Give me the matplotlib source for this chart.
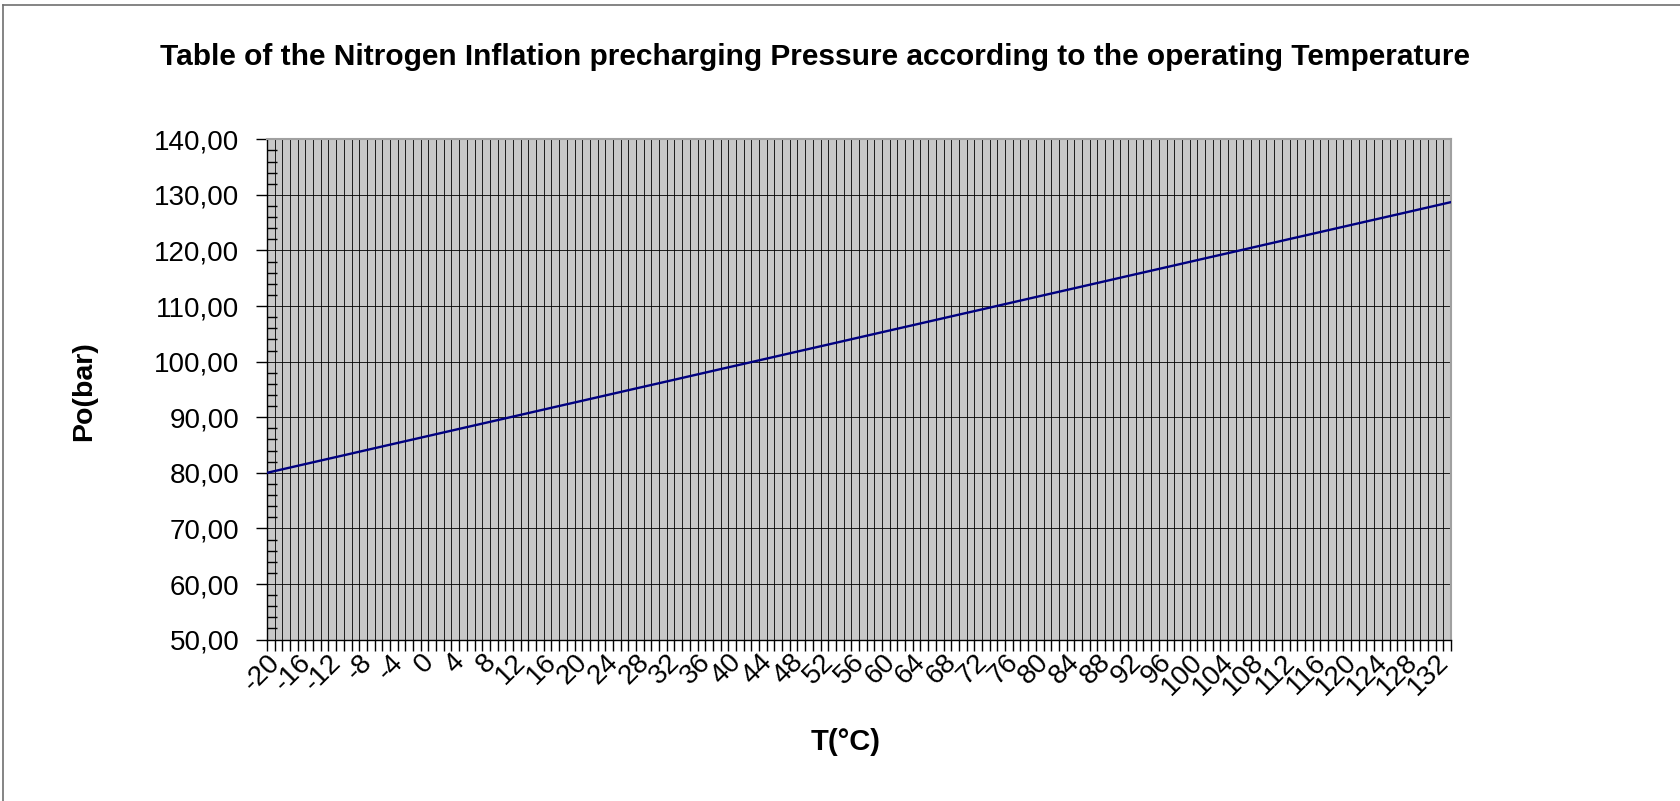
import matplotlib
matplotlib.use('Agg')
import matplotlib.pyplot as plt
import matplotlib.ticker as ticker

plt.rcParams['font.family'] = ['Liberation Sans', 'DejaVu Sans']

# operating temperature (deg C), one category per degree
temps = list(range(-20, 135))

# nitrogen precharge pressure (bar)
pressure = [
    80.00, 80.32, 80.63, 80.95, 81.26, 81.58, 81.90, 82.21, 82.53, 82.85,
    83.16, 83.48, 83.79, 84.11, 84.43, 84.74, 85.06, 85.38, 85.69, 86.01,
    86.32, 86.64, 86.96, 87.27, 87.59, 87.91, 88.22, 88.54, 88.85, 89.17,
    89.49, 89.80, 90.12, 90.43, 90.75, 91.07, 91.38, 91.70, 92.02, 92.33,
    92.65, 92.96, 93.28, 93.60, 93.91, 94.23, 94.55, 94.86, 95.18, 95.49,
    95.81, 96.13, 96.44, 96.76, 97.08, 97.39, 97.71, 98.02, 98.34, 98.66,
    98.97, 99.29, 99.60, 99.92, 100.24, 100.55, 100.87, 101.19, 101.50, 101.82,
    102.13, 102.45, 102.77, 103.08, 103.40, 103.72, 104.03, 104.35, 104.66, 104.98,
    105.30, 105.61, 105.93, 106.25, 106.56, 106.88, 107.19, 107.51, 107.83, 108.14,
    108.46, 108.77, 109.09, 109.41, 109.72, 110.04, 110.36, 110.67, 110.99, 111.30,
    111.62, 111.94, 112.25, 112.57, 112.89, 113.20, 113.52, 113.83, 114.15, 114.47,
    114.78, 115.10, 115.42, 115.73, 116.05, 116.36, 116.68, 117.00, 117.31, 117.63,
    117.94, 118.26, 118.58, 118.89, 119.21, 119.53, 119.84, 120.16, 120.47, 120.79,
    121.11, 121.42, 121.74, 122.06, 122.37, 122.69, 123.00, 123.32, 123.64, 123.95,
    124.27, 124.58, 124.90, 125.22, 125.53, 125.85, 126.17, 126.48, 126.80, 127.11,
    127.43, 127.75, 128.06, 128.38, 128.70,
]

label_step = 4  # every 4th category gets a label

title = 'Table of the Nitrogen Inflation precharging Pressure according to the operating Temperature'

fig = plt.figure(figsize=(16.8, 8.01), dpi=100)
ax = fig.add_axes([0.1589, 0.2015, 0.7048, 0.6246])

ax.set_facecolor('#c8c8c8')
ax.plot(temps, pressure, color='#000080', lw=1.7, zorder=3)

ax.set_xlim(temps[0], temps[-1])
ax.set_ylim(50, 140)

# category ticks / gridlines at every degree
ax.set_xticks(temps)
ax.set_xticklabels([str(t) if i % label_step == 0 else '' for i, t in enumerate(temps)],
                   rotation=45, ha='right', va='top', rotation_mode='anchor', fontsize=20)

ax.yaxis.set_major_locator(ticker.MultipleLocator(10))
ax.yaxis.set_minor_locator(ticker.MultipleLocator(2))
ax.yaxis.set_major_formatter(ticker.FuncFormatter(lambda v, p: '{:.2f}'.format(v).replace('.', ',')))
ax.tick_params(axis='y', which='major', direction='out', length=8, width=1, labelsize=20, pad=12)
ax.tick_params(axis='y', which='minor', direction='in', length=7, width=1)
ax.tick_params(axis='x', which='major', direction='out', length=8, width=1, pad=-1)

ax.grid(True, which='major', color='black', lw=0.6, zorder=1)
ax.set_axisbelow(True)

for side in ['left', 'bottom']:
    ax.spines[side].set_color('black')
    ax.spines[side].set_linewidth(1)
for side in ['top', 'right']:
    ax.spines[side].set_color('#a0a0a0')
    ax.spines[side].set_linewidth(1.5)

fig.text(0.485, 0.929, title, ha='center', va='center', fontsize=21.5, fontweight='bold')
fig.text(0.05, 0.512, 'Po(bar)', ha='center', va='center', rotation=90, fontsize=20.5, fontweight='bold')
fig.text(0.5036, 0.074, 'T(°C)', ha='center', va='center', fontsize=21, fontweight='bold')

# outer chart frame (top and left edges visible)
fig.add_artist(plt.Line2D([0.002, 0.002], [0, 0.994], color='#707070', lw=1.2, transform=fig.transFigure))
fig.add_artist(plt.Line2D([0.002, 1], [0.994, 0.994], color='#707070', lw=1.2, transform=fig.transFigure))

fig.savefig('out.png', dpi=100)
